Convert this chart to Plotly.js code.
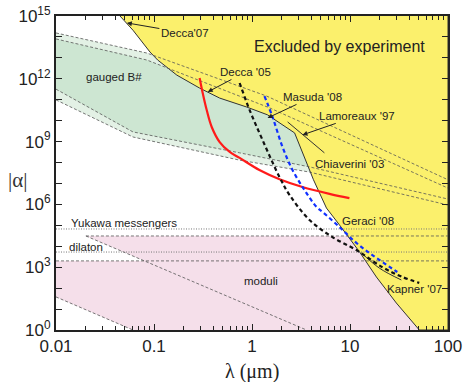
<!DOCTYPE html>
<html>
<head>
<meta charset="utf-8">
<script src="https://cdn.plot.ly/plotly-3.0.1.min.js"></script>
<style>
  body { margin: 0; background: #fff; }
  #chartDiv { width: 465px; height: 382px; }
</style>
</head>
<body>
<div id="chartDiv"></div>
<script>
// excluded region boundary (lambda in um, |alpha|)
const exclLam = [0.045, 0.061, 0.091, 0.109, 0.171, 0.292, 0.468, 0.88, 1.44, 2.72, 4.24, 5.75, 7.8, 12.5, 18.6, 29.7, 51, 100, 100];
const exclAlpha = [1e15, 2.1e14, 1.9e13, 7.9e12, 1.5e12, 3.6e11, 1.2e11, 4.5e10, 1.9e10, 2.6e9, 1.5e7, 6.7e5, 1.05e5, 5.4e3, 340, 19.5, 1, 1, 1e15];

// gauged B# band edges
const gOuterTopLam = [0.01, 0.0845, 1.41, 100];
const gOuterTopAlpha = [1.55e14, 1.7e13, 1.5e11, 1.5e7];
const gInnerTopLam = [0.01, 0.0845, 1.51, 100];
const gInnerTopAlpha = [8e13, 7.9e12, 4.1e10, 6e6];
const gInnerBotLam = [0.01, 0.061, 0.748, 3.86, 100];
const gInnerBotAlpha = [3.2e11, 2.9e9, 2.9e8, 6.2e7, 1.8e6];
const gOuterBotLam = [0.01, 0.061, 0.748, 3.86, 100];
const gOuterBotAlpha = [9.8e10, 1.66e9, 1.3e8, 3.5e7, 9.3e5];

// moduli band
const modLam = [0.0202, 100, 100, 0.061, 0.01, 0.01, 0.0805, 0.0202];
const modAlpha = [3.1e4, 3.1e4, 1, 1, 38, 2e3, 2e3, 3.1e4];
const modDiagLam = [0.0202, 3.6];
const modDiagAlpha = [3.1e4, 1];
const modLowLam = [0.01, 0.061];
const modLowAlpha = [38, 1];
const yukawa = 6.7e4, modTop = 3.1e4, dilaton = 5.3e3, modMid = 2e3;

// projected sensitivities
const redLam = [0.292, 0.314, 0.345, 0.388, 0.468, 0.592, 0.748, 1.19, 1.91, 3.27, 6.17, 9.86];
const redAlpha = [1.1e12, 2.1e11, 3.2e10, 5e9, 9.5e8, 3.2e8, 1.66e8, 4.4e7, 1.6e7, 6.8e6, 3.2e6, 2e6];
const blackLam = [0.748, 0.946, 1.28, 1.91, 2.42, 3.86, 6.62, 11.6, 21.4, 34.2, 50.9];
const blackAlpha = [6.3e11, 3.2e10, 1.2e9, 2e7, 2.8e6, 1.8e5, 2.75e4, 6.6e3, 1e3, 340, 178];
const blueLam = [1.34, 1.62, 2.05, 2.59, 3.43, 4.55, 5.24, 7.8, 11.6, 16.9, 30.4];
const blueAlpha = [1.5e11, 1.5e10, 5.5e8, 4.4e7, 4.9e6, 7.6e5, 4.4e5, 8.3e4, 1.45e4, 3.8e3, 590];
const kapnerLam = [13.1, 19.9, 33.4];
const kapnerAlpha = [4.8e3, 910, 245];
const chiavLam = [2.31, 5.48];
const chiavAlpha = [8.7e9, 2.9e8];

const yTicks = [1, 1e3, 1e6, 1e9, 1e12, 1e15];
const yTickText = ["10<sup>0</sup>", "10<sup>3</sup>", "10<sup>6</sup>", "10<sup>9</sup>", "10<sup>12</sup>", "10<sup>15</sup>"];
const yMinorTicks = [1e1, 1e2, 1e4, 1e5, 1e7, 1e8, 1e10, 1e11, 1e13, 1e14];
const xTicks = [0.01, 0.1, 1, 10, 100];
const xTickText = ["0.01", "0.1", "1", "10", "100"];

function band(topX, topY, botX, botY) {
  return { x: topX.concat(botX.slice().reverse()), y: topY.concat(botY.slice().reverse()) };
}
const outer = band(gOuterTopLam, gOuterTopAlpha, gOuterBotLam, gOuterBotAlpha);
const inner = band(gInnerTopLam, gInnerTopAlpha, gInnerBotLam, gInnerBotAlpha);

const thinDash = { color: "#555", width: 0.8, dash: "3px,2px" };
const dotLine = { color: "#777", width: 1, dash: "1px,1.5px" };

function hline(v, x0, ln) {
  return { x: [x0, 100], y: [v, v], mode: "lines", line: ln, hoverinfo: "skip" };
}

const traces = [
  { x: outer.x, y: outer.y, fill: "toself", fillcolor: "#E3F1E5", mode: "none" },
  { x: inner.x, y: inner.y, fill: "toself", fillcolor: "#CDE6D2", mode: "none" },
  { x: modLam, y: modAlpha, fill: "toself", fillcolor: "#F5DFEA", mode: "none" },
  { x: exclLam, y: exclAlpha, fill: "toself", fillcolor: "#FBF06C", mode: "lines", line: { color: "#333", width: 1 } },
  { x: gOuterTopLam, y: gOuterTopAlpha, mode: "lines", line: thinDash },
  { x: gInnerTopLam, y: gInnerTopAlpha, mode: "lines", line: thinDash },
  { x: gInnerBotLam, y: gInnerBotAlpha, mode: "lines", line: thinDash },
  { x: gOuterBotLam, y: gOuterBotAlpha, mode: "lines", line: thinDash },
  hline(yukawa, 0.01, dotLine),
  hline(modTop, 0.0202, thinDash),
  hline(dilaton, 0.01, dotLine),
  hline(modMid, 0.01, thinDash),
  { x: modDiagLam, y: modDiagAlpha, mode: "lines", line: thinDash },
  { x: modLowLam, y: modLowAlpha, mode: "lines", line: thinDash },
  { x: chiavLam, y: chiavAlpha, mode: "lines", line: { color: "#333", width: 1 } },
  { x: kapnerLam, y: kapnerAlpha, mode: "lines", line: { color: "#333", width: 1, shape: "spline" } },
  { x: redLam, y: redAlpha, mode: "lines", line: { color: "#FF1A1A", width: 2.2, shape: "spline" } },
  { x: blackLam, y: blackAlpha, mode: "lines", line: { color: "#111", width: 2.2, dash: "4px,3px", shape: "spline" } },
  { x: blueLam, y: blueAlpha, mode: "lines", line: { color: "#1030FF", width: 2.2, dash: "4px,3px", shape: "spline" } }
];

const lbl = { family: "Liberation Sans, Arial, sans-serif", size: 11.5, color: "#222" };

function arrowNote(text, xl, yl, ax, ay) {
  return { text: text, x: xl, y: yl, xref: "x", yref: "y", ax: ax, ay: ay,
    showarrow: true, arrowhead: 2, arrowsize: 1, arrowwidth: 1, arrowcolor: "#222", font: lbl };
}
function note(text, x, y, xanchor, font) {
  return { text: text, x: x, y: y, xref: "paper", yref: "paper", xanchor: xanchor, yanchor: "middle",
    showarrow: false, font: font || lbl };
}

const layout = {
  width: 465, height: 382,
  margin: { l: 56, r: 17, t: 16, b: 52 },
  paper_bgcolor: "#fff", plot_bgcolor: "#fff",
  showlegend: false,
  font: { family: "Liberation Sans, Arial, sans-serif", color: "#222" },
  xaxis: {
    type: "log", range: [-2, 2],
    tickvals: xTicks, ticktext: xTickText,
    ticks: "inside", ticklen: 6, tickwidth: 1, tickcolor: "#222",
    minor: { ticks: "inside", ticklen: 4, dtick: "D1", tickcolor: "#222" },
    showline: true, linewidth: 2, linecolor: "#222", mirror: "allticks",
    showgrid: false, zeroline: false,
    tickfont: { size: 17 }
  },
  yaxis: {
    type: "log", range: [0, 15],
    tickvals: yTicks, ticktext: yTickText,
    ticks: "inside", ticklen: 6, tickwidth: 1, tickcolor: "#222",
    minor: { ticks: "inside", ticklen: 6, tickvals: yMinorTicks, tickcolor: "#222" },
    showline: true, linewidth: 2, linecolor: "#222", mirror: "allticks",
    showgrid: false, zeroline: false,
    tickfont: { size: 17 }
  },
  annotations: [
    arrowNote("Decca'07", -1.277, 14.67, 58, 10),
    arrowNote("Decca '05", -0.452, 11.37, 38, -20),
    arrowNote("Masuda '08", 0.159, 10.13, 45, -21),
    arrowNote("Lamoreaux '97", 0.515, 9.32, 55, -19),
    note("Chiaverini '03", 0.656, 0.529, "left"),
    note("Geraci '08", 0.724, 0.347, "left"),
    note("Kapner '07", 0.84, 0.131, "left"),
    note("Excluded by experiment", 0.724, 0.904, "center", { family: "Liberation Sans, Arial, sans-serif", size: 16, color: "#222" }),
    note("gauged B#", 0.148, 0.806, "center"),
    note("Yukawa messengers", 0.033, 0.341, "left"),
    note("dilaton", 0.028, 0.264, "left"),
    note("moduli", 0.523, 0.156, "center"),
    note("|α|", -0.097, 0.478, "center", { family: "Liberation Serif, serif", size: 21, color: "#333" }),
    note("λ (μm)", 0.5, -0.131, "center", { family: "Liberation Serif, serif", size: 20, color: "#222" })
  ]
};

Plotly.newPlot("chartDiv", traces, layout, { staticPlot: true });
</script>
</body>
</html>
